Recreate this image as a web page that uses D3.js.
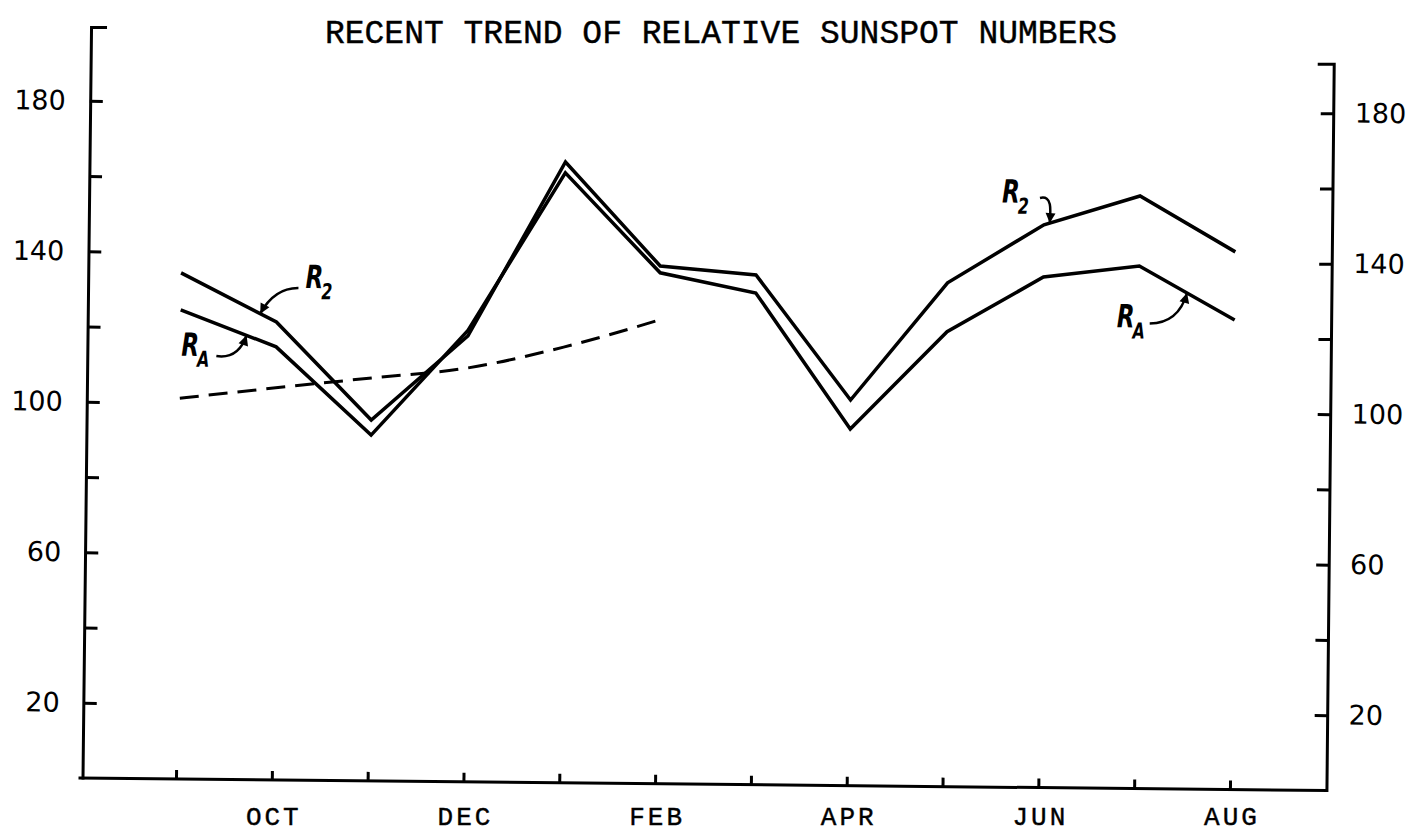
<!DOCTYPE html>
<html>
<head>
<meta charset="utf-8">
<script src="https://cdn.jsdelivr.net/npm/d3@7"></script>
<style>
  html, body { margin: 0; padding: 0; background: #fff; }
  svg { display: block; }
</style>
</head>
<body>
<script>
// ---------------- DATA ----------------
const months = ["SEP","OCT","NOV","DEC","JAN","FEB","MAR","APR","MAY","JUN","JUL","AUG"];
const shownMonths = ["OCT","DEC","FEB","APR","JUN","AUG"];
const r2Values = [134.5, 121.7, 95.9, 118.5, 165.0, 137.6, 135.5, 102.5, 133.9, 149.6, 157.5, 142.9];
const rAValues = [124.7, 115.1, 91.9, 120.0, 162.1, 135.8, 130.7, 94.8, 120.9, 135.7, 138.9, 124.8];
const trendValues = [101.2, 104.2, 107.1, 110.0, 115.8, 123.3]; // dashed curve, SEP..FEB
const yTickValues = [20, 40, 60, 80, 100, 120, 140, 160, 180];
const yTickLabels = [20, 60, 100, 140, 180];
const titleText = "RECENT TREND OF RELATIVE SUNSPOT NUMBERS";
// annotations: series, fractional month index of the arrow tip, label
const annotations = [
  { series: "r2", t: 0.83, main: "R", sub: "2", labelDx: 45, labelDy: -26, path: [[38,-26],[14,-26],[0,0]] },
  { series: "rA", t: 0.69, main: "R", sub: "A", labelDx: -65, labelDy: 21, path: [[-30,21],[-8,24],[0,0]] },
  { series: "r2", t: 9.06, main: "R", sub: "2", labelDx: -48, labelDy: -20, path: [[-10,-25],[2,-28],[1,-14],[0,0]] },
  { series: "rA", t: 10.5, main: "R", sub: "A", labelDx: -70, labelDy: 35, path: [[-37,31],[-8,30],[0,0]] }
];

// ---------------- CHART ----------------
const W = 1414, H = 834;
const svg = d3.select("body").append("svg").attr("width", W).attr("height", H);
svg.append("rect").attr("width", W).attr("height", H).attr("fill", "#fff");

const XL = 83, XR = 1327, Y0 = 778;
const g = svg.append("g").attr("transform", `rotate(0.575, ${XL}, ${Y0})`);

const x = d3.scaleLinear().domain([0, 11]).range([176, 1230]);
const y = d3.scaleLinear().domain([0, 200]).range([Y0, 25.5]);

const ink = "#000";
const labelFont = "'DejaVu Sans', 'Noto Sans', sans-serif";
const typeFont = "'Liberation Mono', 'DejaVu Sans Mono', monospace";

// Title (outside rotation)
svg.append("text")
  .attr("x", 721).attr("y", 43)
  .attr("text-anchor", "middle")
  .attr("font-family", typeFont)
  .attr("font-size", 33)
  .attr("fill", ink)
  .attr("stroke", ink).attr("stroke-width", 0.4)
  .text(titleText);

// Axis frame lines
const frame = g.append("g").attr("stroke", ink).attr("stroke-width", 3).attr("fill", "none")
  .attr("stroke-linecap", "square");
frame.append("path").attr("d", `M${XL + 15},${y(199.5)} L${XL + 1},${y(199.5)} L${XL},${y(0)}`);
frame.append("path").attr("d", `M${XL - 3},${y(0)} L${XR},${y(0)} L${XR},${y(193)} L${XR - 15},${y(193)}`);

function styleAxis(sel) {
  sel.select(".domain").remove();
  sel.selectAll(".tick line").attr("stroke", ink).attr("stroke-width", 3);
}

// Left axis
const leftAxis = g.append("g").attr("transform", `translate(${XL},0)`)
  .call(d3.axisLeft(y).tickValues(yTickValues).tickSizeInner(-13).tickSizeOuter(0).tickPadding(24)
    .tickFormat(d => yTickLabels.includes(d) ? d : ""));
styleAxis(leftAxis);
leftAxis.selectAll("text").attr("font-family", labelFont).attr("font-size", 27).attr("fill", ink);

// Right axis
const rightAxis = g.append("g").attr("transform", `translate(${XR},0)`)
  .call(d3.axisRight(y).tickValues(yTickValues).tickSizeInner(-13).tickSizeOuter(0).tickPadding(21)
    .tickFormat(d => yTickLabels.includes(d) ? d : ""));
styleAxis(rightAxis);
rightAxis.selectAll("text").attr("font-family", labelFont).attr("font-size", 27).attr("fill", ink);

// Bottom axis ticks (rotated with the frame)
const bottomAxis = g.append("g").attr("transform", `translate(0,${Y0})`)
  .call(d3.axisBottom(x).tickValues(d3.range(months.length)).tickSizeInner(-9).tickSizeOuter(0)
    .tickFormat(""));
styleAxis(bottomAxis);

// Month labels (nearly level in the reference, so drawn outside the rotation)
const monthAxis = svg.append("g").attr("transform", `translate(0,${Y0})`)
  .call(d3.axisBottom(x).tickValues(d3.range(months.length)).tickSize(0).tickPadding(0)
    .tickFormat(i => shownMonths.includes(months[i]) ? months[i] : ""));
monthAxis.select(".domain").remove();
monthAxis.selectAll("text")
  .attr("y", 47).attr("dy", 0).attr("dx", 1.5)
  .attr("font-family", typeFont).attr("font-size", 26)
  .attr("letter-spacing", 3)
  .attr("fill", ink).attr("stroke", ink).attr("stroke-width", 0.4);

// Data lines
const line = d3.line().x((d, i) => x(i)).y(d => y(d));
const series = { r2: r2Values, rA: rAValues };
[r2Values, rAValues].forEach(vals => {
  g.append("path").datum(vals)
    .attr("d", line)
    .attr("fill", "none").attr("stroke", ink).attr("stroke-width", 3.5)
    .attr("stroke-linejoin", "miter");
});

// Dashed trend
g.append("path").datum(trendValues)
  .attr("d", d3.line().x((d, i) => x(i)).y(d => y(d)).curve(d3.curveMonotoneX))
  .attr("fill", "none").attr("stroke", ink).attr("stroke-width", 3)
  .attr("stroke-dasharray", "19,10");

// Annotations
function pointOn(vals, t) {
  const i = Math.min(Math.floor(t), vals.length - 2);
  const f = t - i;
  const v = vals[i] + (vals[i + 1] - vals[i]) * f;
  return [x(t), y(v)];
}
annotations.forEach(a => {
  const [tx, ty] = pointOn(series[a.series], a.t);
  const pts = a.path.map(p => [tx + p[0], ty + p[1]]);
  let d;
  if (pts.length === 3) d = `M${pts[0]} Q${pts[1]} ${pts[2]}`;
  else d = `M${pts[0]} C${pts[1]} ${pts[2]} ${pts[3]}`;
  g.append("path").attr("d", d).attr("fill", "none").attr("stroke", ink).attr("stroke-width", 2.5);
  const prev = pts[pts.length - 2];
  const ang = Math.atan2(ty - prev[1], tx - prev[0]);
  const L = 10, Wd = 5;
  const bx = tx - L * Math.cos(ang), by = ty - L * Math.sin(ang);
  const px = -Math.sin(ang) * Wd, py = Math.cos(ang) * Wd;
  g.append("path")
    .attr("d", `M${tx},${ty} L${bx + px},${by + py} L${bx - px},${by - py} Z`)
    .attr("fill", ink);
  const lg = g.append("g").attr("transform", `translate(${tx + a.labelDx},${ty + a.labelDy}) scale(0.72,1)`);
  lg.append("text").attr("x", 0).attr("y", 0)
    .attr("font-family", labelFont).attr("font-size", 32).attr("font-style", "italic").attr("font-weight", "bold")
    .attr("fill", ink).text(a.main);
  lg.append("text").attr("x", 22).attr("y", 11)
    .attr("font-family", labelFont).attr("font-size", 22).attr("font-style", "italic").attr("font-weight", "bold")
    .attr("fill", ink).text(a.sub);
});
</script>
</body>
</html>
